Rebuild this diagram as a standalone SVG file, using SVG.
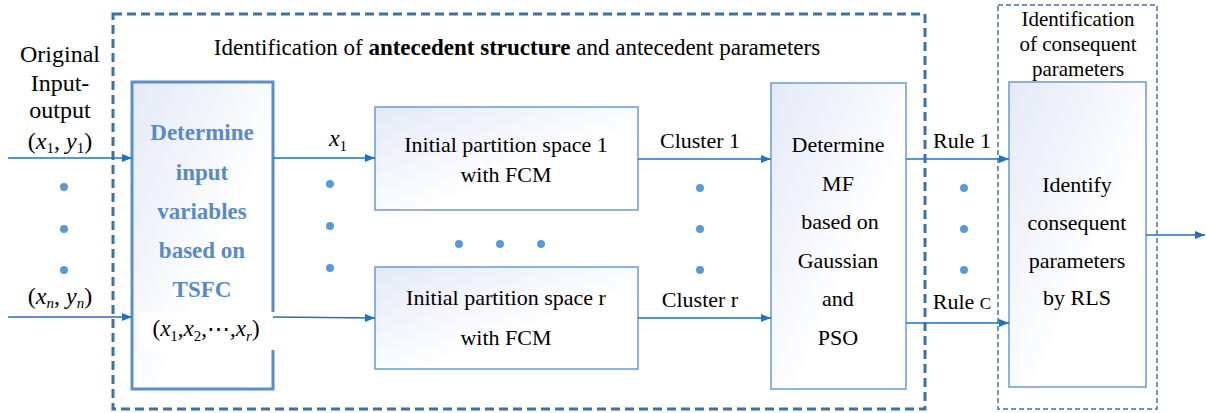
<svg xmlns="http://www.w3.org/2000/svg" width="1207" height="413" viewBox="0 0 1207 413">
<defs>
<linearGradient id="g" x1="0" y1="0" x2="1" y2="1">
<stop offset="0" stop-color="#e4e9f6"/>
<stop offset="0.6" stop-color="#ffffff"/>
</linearGradient>
<marker id="ah" markerWidth="10" markerHeight="8" refX="10" refY="4" orient="auto" markerUnits="userSpaceOnUse">
<path d="M0,0 L10,4 L0,8 Z" fill="#1f72c0"/>
</marker>
</defs>
<rect x="0" y="0" width="1207" height="413" fill="#fff"/>
<g id="antecedent-group">
<rect x="113" y="14" width="812" height="395" fill="none" stroke="#41719c" stroke-width="3" stroke-dasharray="9,5"/>
<text font-family="Liberation Serif" text-anchor="middle" x="517" y="55" font-size="23">Identification of <tspan font-weight="bold">antecedent  structure</tspan> and antecedent parameters</text>
</g>
<g id="consequent-group">
<text font-family="Liberation Serif" text-anchor="middle" x="1078" y="26" font-size="21">Identification</text>
<text font-family="Liberation Serif" text-anchor="middle" x="1078" y="51" font-size="21">of consequent</text>
<text font-family="Liberation Serif" text-anchor="middle" x="1078" y="76" font-size="21">parameters</text>
<rect x="998" y="5" width="159" height="404" fill="none" stroke="#41719c" stroke-width="1.5" stroke-dasharray="5,3"/>
</g>
<g id="input-label">
<text font-family="Liberation Serif" text-anchor="middle" x="60" y="62" font-size="24">Original</text>
<text font-family="Liberation Serif" text-anchor="middle" x="60" y="91" font-size="24">Input-</text>
<text font-family="Liberation Serif" text-anchor="middle" x="60" y="118" font-size="24">output</text>
<text font-family="Liberation Serif" text-anchor="middle" x="60" y="149" font-size="24">(<tspan font-style="italic">x</tspan><tspan font-size="15" dy="4">1</tspan><tspan dy="-4">, </tspan><tspan font-style="italic">y</tspan><tspan font-size="15" dy="4">1</tspan><tspan dy="-4">)</tspan></text>
<text font-family="Liberation Serif" text-anchor="middle" x="60" y="304" font-size="24">(<tspan font-style="italic">x</tspan><tspan font-size="15" font-style="italic" dy="4">n</tspan><tspan dy="-4">, </tspan><tspan font-style="italic">y</tspan><tspan font-size="15" font-style="italic" dy="4">n</tspan><tspan dy="-4">)</tspan></text>
<circle fill="#5b9bd5" cx="64" cy="187" r="4"/>
<circle fill="#5b9bd5" cx="64" cy="229" r="4"/>
<circle fill="#5b9bd5" cx="64" cy="270" r="4"/>
</g>
<g id="determine-input">
<rect x="132" y="82" width="141" height="307" fill="url(#g)" stroke="#5b8fc5" stroke-width="3"/>
<text font-family="Liberation Serif" text-anchor="middle" fill="#5a8ac6" font-weight="bold" font-size="23" x="202" y="140">Determine</text>
<text font-family="Liberation Serif" text-anchor="middle" fill="#5a8ac6" font-weight="bold" font-size="23" x="202" y="180">input</text>
<text font-family="Liberation Serif" text-anchor="middle" fill="#5a8ac6" font-weight="bold" font-size="23" x="202" y="219">variables</text>
<text font-family="Liberation Serif" text-anchor="middle" fill="#5a8ac6" font-weight="bold" font-size="23" x="202" y="258">based on</text>
<text font-family="Liberation Serif" text-anchor="middle" fill="#5a8ac6" font-weight="bold" font-size="23" x="202" y="297">TSFC</text>
<rect x="140" y="312" width="138" height="38" fill="#fff"/>
<text font-family="Liberation Serif" text-anchor="middle" x="206" y="336" font-size="23">(<tspan font-style="italic">x</tspan><tspan font-size="15" dy="5">1</tspan><tspan dy="-5">,</tspan><tspan font-style="italic">x</tspan><tspan font-size="15" dy="5">2</tspan><tspan dy="-5">,⋯,</tspan><tspan font-style="italic">x</tspan><tspan font-size="15" font-style="italic" dy="5">r</tspan><tspan dy="-5">)</tspan></text>
</g>
<g id="space1">
<rect x="375" y="107" width="263" height="103" fill="url(#g)" stroke="#6a9bd0" stroke-width="1.5"/>
<text font-family="Liberation Serif" text-anchor="middle" x="506" y="152" font-size="22">Initial partition space 1</text>
<text font-family="Liberation Serif" text-anchor="middle" x="506" y="182" font-size="22">with FCM</text>
</g>
<g id="spacer">
<rect x="375" y="267" width="263" height="102" fill="url(#g)" stroke="#6a9bd0" stroke-width="1.5"/>
<text font-family="Liberation Serif" text-anchor="middle" x="506" y="305" font-size="22">Initial partition space r</text>
<text font-family="Liberation Serif" text-anchor="middle" x="506" y="345" font-size="22">with FCM</text>
</g>
<g id="mf">
<rect x="771" y="83" width="135" height="306" fill="url(#g)" stroke="#6a9bd0" stroke-width="1.5"/>
<text font-family="Liberation Serif" text-anchor="middle" x="838" y="152" font-size="22">Determine</text>
<text font-family="Liberation Serif" text-anchor="middle" x="838" y="191" font-size="22">MF</text>
<text font-family="Liberation Serif" text-anchor="middle" x="840" y="229" font-size="22">based on</text>
<text font-family="Liberation Serif" text-anchor="middle" x="838" y="268" font-size="22">Gaussian</text>
<text font-family="Liberation Serif" text-anchor="middle" x="838" y="306" font-size="22">and</text>
<text font-family="Liberation Serif" text-anchor="middle" x="838" y="345" font-size="22">PSO</text>
</g>
<g id="identify">
<rect x="1009" y="82" width="137" height="305" fill="url(#g)" stroke="#6a9bd0" stroke-width="1.5"/>
<text font-family="Liberation Serif" text-anchor="middle" x="1077" y="192" font-size="22">Identify</text>
<text font-family="Liberation Serif" text-anchor="middle" x="1077" y="230" font-size="22">consequent</text>
<text font-family="Liberation Serif" text-anchor="middle" x="1077" y="268" font-size="22">parameters</text>
<text font-family="Liberation Serif" text-anchor="middle" x="1077" y="305" font-size="22">by RLS</text>
</g>
<g id="connectors" stroke="#1f72c0" stroke-width="1.5" fill="none">
<line x1="8" y1="158" x2="132" y2="158" marker-end="url(#ah)"/>
<line x1="8" y1="317" x2="132" y2="317" marker-end="url(#ah)"/>
<line x1="273" y1="158" x2="375" y2="158" marker-end="url(#ah)"/>
<line x1="273" y1="317" x2="375" y2="318" marker-end="url(#ah)"/>
<line x1="638" y1="159" x2="771" y2="159" marker-end="url(#ah)"/>
<line x1="638" y1="318" x2="771" y2="318" marker-end="url(#ah)"/>
<line x1="906" y1="159" x2="1009" y2="159" marker-end="url(#ah)"/>
<line x1="906" y1="323" x2="1009" y2="323" marker-end="url(#ah)"/>
<line x1="1146" y1="235" x2="1205" y2="235" marker-end="url(#ah)"/>
</g>
<g id="connector-labels" fill="#000">
<text font-family="Liberation Serif" text-anchor="middle" x="338" y="146" font-size="24"><tspan font-style="italic">x</tspan><tspan font-size="15" dy="5">1</tspan></text>
<text font-family="Liberation Serif" text-anchor="middle" x="700" y="148" font-size="22">Cluster 1</text>
<text font-family="Liberation Serif" text-anchor="middle" x="700" y="307" font-size="22">Cluster r</text>
<text font-family="Liberation Serif" text-anchor="middle" x="962" y="148" font-size="22">Rule 1</text>
<text font-family="Liberation Serif" text-anchor="middle" x="962" y="309" font-size="22">Rule <tspan font-size="17">C</tspan></text>
</g>
<g id="dots" fill="#5b9bd5">
<circle cx="330" cy="184" r="4"/>
<circle cx="330" cy="226" r="4"/>
<circle cx="330" cy="268" r="4"/>
<circle cx="459" cy="244" r="4"/>
<circle cx="500" cy="244" r="4"/>
<circle cx="541" cy="244" r="4"/>
<circle cx="700" cy="188" r="4"/>
<circle cx="700" cy="229" r="4"/>
<circle cx="700" cy="270" r="4"/>
<circle cx="964" cy="188" r="4"/>
<circle cx="964" cy="229" r="4"/>
<circle cx="964" cy="270" r="4"/>
</g>
</svg>
